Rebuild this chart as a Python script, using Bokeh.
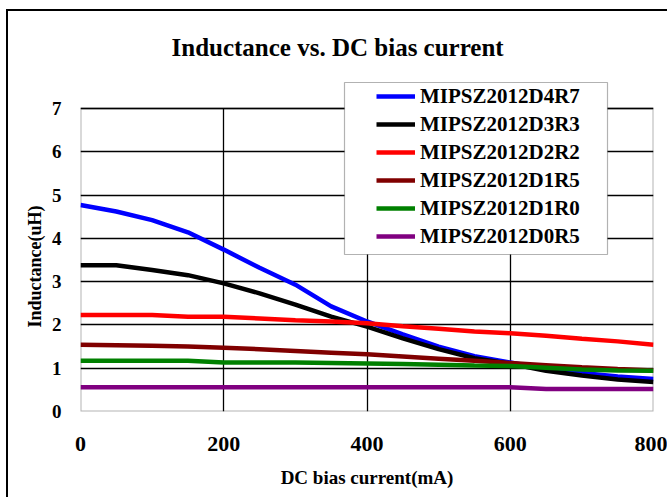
from bokeh.plotting import figure
from bokeh.models import Range1d, Legend, LegendItem, BoxAnnotation, Title
from bokeh.embed import file_html
from bokeh.resources import INLINE

# ---------------- data ----------------
current_mA = [0, 50, 100, 150, 200, 250, 300, 350, 400, 450, 500, 550, 600, 650, 700, 750, 800]
series_names = ["MIPSZ2012D4R7", "MIPSZ2012D3R3", "MIPSZ2012D2R2",
                "MIPSZ2012D1R5", "MIPSZ2012D1R0", "MIPSZ2012D0R5"]
d4r7 = [4.77, 4.62, 4.42, 4.14, 3.74, 3.32, 2.93, 2.43, 2.08, 1.78, 1.50, 1.28, 1.13, 0.98, 0.89, 0.81, 0.75]
d3r3 = [3.38, 3.38, 3.27, 3.15, 2.96, 2.73, 2.47, 2.19, 1.96, 1.69, 1.44, 1.23, 1.10, 0.94, 0.83, 0.74, 0.68]
d2r2 = [2.23, 2.23, 2.23, 2.19, 2.19, 2.15, 2.11, 2.08, 2.04, 1.97, 1.91, 1.85, 1.81, 1.75, 1.68, 1.62, 1.54]
d1r5 = [1.54, 1.53, 1.52, 1.50, 1.47, 1.44, 1.40, 1.36, 1.32, 1.27, 1.22, 1.17, 1.12, 1.07, 1.02, 0.98, 0.95]
d1r0 = [1.17, 1.17, 1.17, 1.17, 1.13, 1.13, 1.13, 1.12, 1.11, 1.10, 1.08, 1.06, 1.05, 1.01, 0.97, 0.95, 0.94]
d0r5 = [0.56, 0.56, 0.56, 0.56, 0.56, 0.56, 0.56, 0.56, 0.56, 0.56, 0.56, 0.56, 0.56, 0.52, 0.52, 0.52, 0.52]
x_ticks = [0, 200, 400, 600, 800]
y_ticks = [0, 1, 2, 3, 4, 5, 6, 7]
title_text = "Inductance vs. DC bias current"
x_label = "DC bias current(mA)"
y_label = "Inductance(uH)"

colors = ["#0000FF", "#000000", "#FF0000", "#800000", "#008000", "#800080"]
series = [d4r7, d3r3, d2r2, d1r5, d1r0, d0r5]

FONT = "Liberation Serif"

# ---------------- layout (pixels in the picture) ----------------
OX, OY = 8, 11                 # canvas origin (margin + border)
PL, PR, PT, PB = 80, 653, 81, 411   # frame edges; y=7 gridline at ~108
W, H = 659, 486
FL, FT = PL - OX, PT - OY
FW, FH = PR - PL, PB - PT
PX_PER_UNIT = 303 / 7.0
y_top = FH / PX_PER_UNIT

p = figure(frame_width=FW, frame_height=FH,
           min_border_left=FL, min_border_top=FT,
           min_border_right=W - FL - FW, min_border_bottom=H - FT - FH,
           x_range=Range1d(0, 800), y_range=Range1d(0, y_top),
           output_backend="svg", toolbar_location=None,
           background_fill_color="white", border_fill_color="white")
p.styles = {"margin-left": "6px", "margin-top": "9px",
            "border-left": "2px solid black", "border-top": "2px solid black"}
p.outline_line_color = None

# title
p.title.text = title_text
p.title.text_font = FONT
p.title.text_font_style = "bold"
p.title.text_font_size = "25px"
p.title.text_color = "black"
p.title.align = "left"
p.title.offset = 91
p.title.standoff = 41

p.xaxis.ticker = x_ticks
p.yaxis.ticker = y_ticks
for ax in (p.xaxis, p.yaxis):
    ax.axis_line_color = None
    ax.major_tick_line_color = None
    ax.minor_tick_line_color = None
    ax.major_tick_out = 0
    ax.major_tick_in = 0
    ax.major_label_text_font = FONT
    ax.major_label_text_font_style = "bold"
    ax.major_label_text_color = "black"
    ax.axis_label_text_font = FONT
    ax.axis_label_text_font_style = "bold"
    ax.axis_label_text_color = "black"
p.xaxis.major_label_text_font_size = "22px"
p.yaxis.major_label_text_font_size = "19px"
p.xaxis.major_label_standoff = 25
p.yaxis.major_label_standoff = 19
p.xaxis.axis_label = x_label
p.xaxis.axis_label_text_font_size = "19px"
p.xaxis.axis_label_standoff = 13

# y-axis title (centred on the 0..7 part of the plot)
p.add_layout(Title(text=y_label, align="left", offset=84, standoff=8,
                   text_font=FONT, text_font_style="bold", text_font_size="18px",
                   text_color="black"), "left")

# grid
p.ygrid.ticker = y_ticks
p.ygrid.grid_line_color = "black"
p.ygrid.grid_line_width = 1.3
use_grid = True
try:
    p.xgrid.cross_bounds = (y_ticks[0], y_ticks[-1])
except Exception:
    use_grid = False
if use_grid:
    p.xgrid.ticker = x_ticks
    p.xgrid.grid_line_color = "black"
    p.xgrid.grid_line_width = 1.3
else:
    p.xgrid.grid_line_color = None
    p.segment(x0=x_ticks, y0=[y_ticks[0]] * len(x_ticks), x1=x_ticks, y1=[y_ticks[-1]] * len(x_ticks),
              line_color="black", line_width=1.3)

# plot-area border
p.add_layout(BoxAnnotation(left=x_ticks[0], right=x_ticks[-1], bottom=y_ticks[0], top=y_ticks[-1],
                           fill_alpha=0.0, line_color="black", line_width=2, level="underlay"))

renderers = []
for vals, col in zip(series, colors):
    r = p.line(current_mA, vals, line_color=col, line_width=4.5)
    renderers.append(r)

# helpers: picture pixels -> data coords
def dx(px):
    return (px - PL) / FW * 800
def dy(py):
    return (PB - py) / PX_PER_UNIT

# legend box
p.add_layout(BoxAnnotation(left=dx(344), right=dx(607), top=dy(82), bottom=dy(254),
                           fill_color="white", fill_alpha=1.0,
                           line_color="black", line_width=1.2))

legend = Legend(items=[LegendItem(label=n, renderers=[r]) for n, r in zip(series_names, renderers)],
                location=(376 - PL, PB - 250),
                margin=0, padding=0, spacing=0,
                glyph_width=39, glyph_height=28, label_height=28,
                label_standoff=5,
                label_text_font=FONT, label_text_font_style="bold",
                label_text_font_size="21px", label_text_color="black",
                border_line_color=None, background_fill_alpha=0.0)
p.add_layout(legend)

open("out.html", "w").write(file_html(p, INLINE))
